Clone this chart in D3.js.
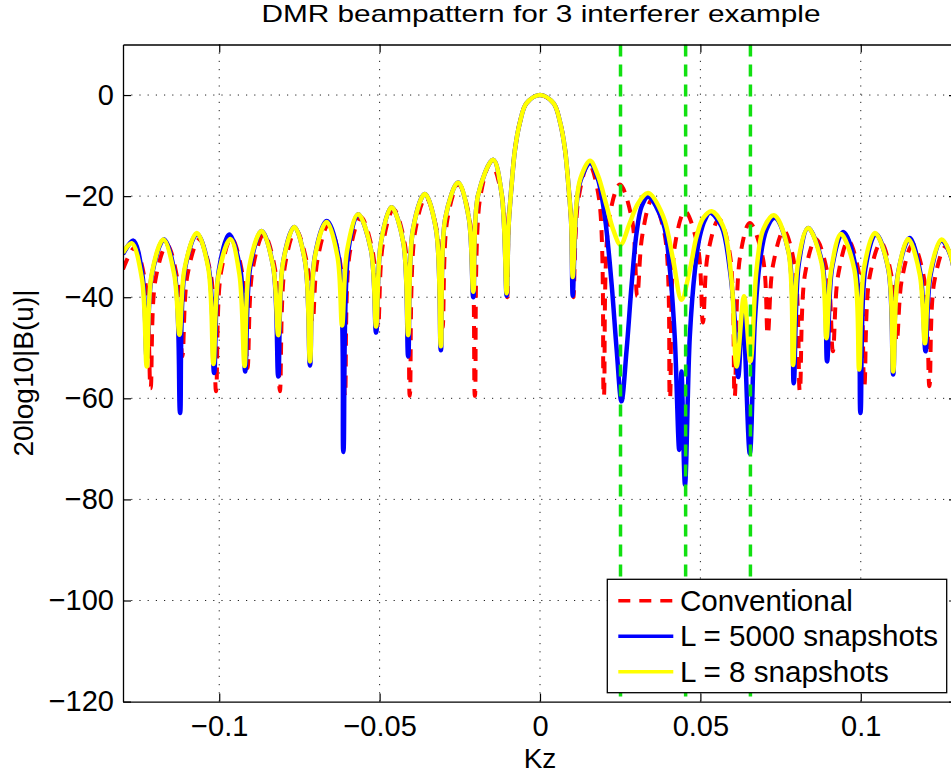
<!DOCTYPE html>
<html>
<head>
<meta charset="utf-8">
<script src="https://cdn.jsdelivr.net/npm/d3@7"></script>
<style>
    body { margin: 0; background: #fff; }
    text { font-family: "Liberation Sans", Arial, Helvetica, sans-serif; fill: #000; }
</style>
</head>
<body>
<div id="vis"></div>
<script>
// interferer directions (green markers)
const interferers = [0.0251, 0.0454, 0.0656];

const xTicks = [-0.1, -0.05, 0, 0.05, 0.1];
const xTickLabels = ["\u22120.1", "\u22120.05", "0", "0.05", "0.1"];
const yTicks = [-120, -100, -80, -60, -40, -20, 0];

// [Kz, dB]
const conventional = [
    [-0.1300,-34.5],[-0.1264,-30.2],[-0.1230,-37.2],[-0.1214,-58.0],[-0.1199,-36.6],[-0.1163,-29.6],
    [-0.1130,-36.6],[-0.1115,-51.7],[-0.1099,-35.6],[-0.1063,-28.6],[-0.1026,-35.6],[-0.1010,-58.6],
    [-0.0995,-35.3],[-0.0962,-28.3],[-0.0928,-35.3],[-0.0912,-54.0],[-0.0896,-34.5],[-0.0861,-27.5],
    [-0.0826,-34.5],[-0.0811,-58.6],[-0.0795,-33.7],[-0.0761,-26.7],[-0.0725,-33.7],[-0.0709,-45.0],
    [-0.0694,-32.7],[-0.0660,-25.7],[-0.0624,-32.7],[-0.0608,-59.5],[-0.0593,-31.2],[-0.0558,-24.2],
    [-0.0521,-31.2],[-0.0505,-46.0],[-0.0490,-29.6],[-0.0457,-22.6],[-0.0421,-29.6],[-0.0406,-59.5],
    [-0.0390,-27.3],[-0.0356,-20.3],[-0.0320,-27.3],[-0.0304,-46.0],[-0.0289,-24.7],[-0.0254,-17.7],
    [-0.0219,-24.7],[-0.0203,-59.5],[-0.0187,-20.5],[-0.0153,-13.5],[-0.0117,-20.5],[-0.0102,-40.0],
    [-0.0098,-26.0],[-0.0088,-17.4],[-0.0078,-10.8],[-0.0063,-5.5],[-0.0042,-1.6],[0,0],
    [0.0042,-1.6],[0.0063,-5.5],[0.0078,-10.8],[0.0088,-17.4],[0.0098,-26.0],
    [0.0104,-40.0],[0.0120,-20.5],[0.0152,-13.5],[0.0184,-20.5],[0.0199,-59.6],[0.0215,-24.7],
    [0.0249,-17.7],[0.0287,-24.7],[0.0303,-39.8],[0.0319,-27.7],[0.0349,-20.7],[0.0389,-27.7],
    [0.0405,-60.0],[0.0420,-30.0],[0.0452,-23.0],[0.0492,-30.0],[0.0508,-45.0],[0.0523,-31.5],
    [0.0558,-24.5],[0.0592,-31.5],[0.0607,-59.6],[0.0623,-32.3],[0.0654,-25.3],[0.0695,-32.3],
    [0.0710,-47.4],[0.0726,-33.8],[0.0760,-26.8],[0.0794,-33.8],[0.0810,-58.6],[0.0826,-35.5],
    [0.0860,-28.5],[0.0897,-35.5],[0.0913,-50.7],[0.0929,-35.8],[0.0961,-28.8],[0.0996,-35.8],
    [0.1011,-57.6],[0.1027,-36.2],[0.1063,-29.2],[0.1097,-36.2],[0.1112,-48.8],[0.1128,-36.5],
    [0.1162,-29.5],[0.1198,-36.5],[0.1214,-57.6],[0.1229,-37.0],[0.1265,-30.0],[0.1300,-36.0]
];

const snap5000 = [
    [-0.1300,-31.5],[-0.1268,-28.8],[-0.1239,-35.8],[-0.1226,-52.0],[-0.1210,-35.6],[-0.1172,-28.6],
    [-0.1138,-35.6],[-0.1122,-62.9],[-0.1107,-34.5],[-0.1069,-27.5],[-0.1032,-34.5],[-0.1016,-55.0],
    [-0.1001,-34.6],[-0.0969,-27.6],[-0.0934,-34.6],[-0.0919,-54.7],[-0.0903,-33.9],[-0.0868,-26.9],
    [-0.0832,-33.9],[-0.0816,-55.7],[-0.0801,-33.1],[-0.0766,-26.1],[-0.0732,-33.1],[-0.0717,-53.5],
    [-0.0702,-31.9],[-0.0665,-24.9],[-0.0628,-31.9],[-0.0613,-70.6],[-0.0597,-30.6],[-0.0567,-23.6],
    [-0.0527,-30.6],[-0.0511,-47.0],[-0.0496,-29.2],[-0.0463,-22.2],[-0.0426,-29.2],[-0.0411,-51.7],
    [-0.0396,-26.6],[-0.0359,-19.6],[-0.0324,-26.6],[-0.0309,-50.5],[-0.0295,-24.3],[-0.0255,-17.3],
    [-0.0222,-24.3],[-0.0208,-40.0],[-0.0193,-19.8],[-0.0146,-12.8],[-0.0119,-19.8],[-0.0104,-39.7],
    [-0.0098,-26.0],[-0.0088,-17.4],[-0.0078,-10.8],[-0.0063,-5.5],[-0.0042,-1.6],[0,0],
    [0.0042,-1.6],[0.0063,-5.5],[0.0078,-10.8],[0.0088,-17.4],[0.0097,-25.0],
    [0.0102,-39.7],[0.0113,-22.5],[0.0126,-17.0],[0.0156,-13.5],[0.0180,-16.5],[0.0202,-24.0],
    [0.0223,-37.2],[0.0239,-50.4],[0.0254,-60.6],[0.0270,-50.4],[0.0286,-37.2],[0.0301,-27.3],
    [0.0317,-22.0],[0.0337,-20.1],[0.0384,-25.3],[0.0405,-34.6],[0.0420,-47.8],[0.0434,-70.2],
    [0.0441,-54.7],[0.0452,-77.1],[0.0467,-47.8],[0.0483,-34.6],[0.0498,-28.0],[0.0514,-24.7],
    [0.0530,-23.3],[0.0566,-26.0],[0.0592,-34.6],[0.0607,-44.5],[0.0618,-55.8],[0.0632,-42.8],
    [0.0654,-70.9],[0.0670,-44.5],[0.0685,-33.2],[0.0706,-26.6],[0.0732,-24.3],[0.0776,-31.3],
    [0.0791,-57.0],[0.0807,-33.3],[0.0836,-26.3],[0.0880,-33.3],[0.0895,-52.7],[0.0911,-34.0],
    [0.0945,-27.1],[0.0984,-34.1],[0.0999,-62.9],[0.1014,-34.5],[0.1047,-27.5],[0.1086,-34.5],
    [0.1101,-55.3],[0.1116,-35.3],[0.1153,-28.3],[0.1186,-35.3],[0.1202,-50.7],[0.1217,-35.8],
    [0.1252,-28.8],[0.1281,-32.0],[0.1300,-40.0]
];

const snap8 = [
    [-0.1300,-31.2],[-0.1273,-29.3],[-0.1241,-36.3],[-0.1226,-53.7],[-0.1211,-35.6],[-0.1174,-28.6],
    [-0.1140,-35.6],[-0.1124,-47.4],[-0.1108,-34.3],[-0.1070,-27.3],[-0.1034,-34.3],[-0.1018,-53.2],
    [-0.1002,-35.5],[-0.0965,-28.5],[-0.0937,-35.5],[-0.0921,-53.6],[-0.0906,-33.9],[-0.0868,-26.9],
    [-0.0832,-33.9],[-0.0816,-47.5],[-0.0801,-33.1],[-0.0766,-26.1],[-0.0732,-33.1],[-0.0717,-52.7],
    [-0.0702,-32.1],[-0.0665,-25.1],[-0.0631,-32.1],[-0.0617,-45.6],[-0.0601,-30.6],[-0.0567,-23.6],
    [-0.0527,-30.6],[-0.0511,-45.8],[-0.0496,-29.2],[-0.0463,-22.2],[-0.0426,-29.2],[-0.0411,-47.5],
    [-0.0396,-26.6],[-0.0359,-19.6],[-0.0324,-26.6],[-0.0309,-49.7],[-0.0295,-24.3],[-0.0255,-17.3],
    [-0.0222,-24.3],[-0.0208,-38.9],[-0.0193,-19.8],[-0.0146,-12.8],[-0.0119,-19.8],[-0.0104,-39.2],
    [-0.0098,-26.0],[-0.0088,-17.4],[-0.0078,-10.8],[-0.0063,-5.5],[-0.0042,-1.6],[0,0],
    [0.0042,-1.6],[0.0063,-5.5],[0.0078,-10.8],[0.0088,-17.4],[0.0097,-25.0],
    [0.0102,-36.0],[0.0113,-22.0],[0.0126,-16.5],[0.0156,-13.0],[0.0180,-15.8],[0.0208,-22.0],
    [0.0228,-26.6],[0.0251,-29.6],[0.0280,-25.3],[0.0306,-21.4],[0.0337,-19.4],[0.0384,-24.0],
    [0.0415,-32.6],[0.0441,-40.5],[0.0467,-34.6],[0.0488,-28.0],[0.0509,-24.3],[0.0535,-23.0],
    [0.0571,-26.0],[0.0597,-36.5],[0.0613,-53.7],[0.0636,-39.8],[0.0656,-52.7],[0.0675,-34.6],
    [0.0696,-26.6],[0.0729,-23.8],[0.0774,-30.8],[0.0789,-53.4],[0.0804,-33.3],[0.0836,-26.3],
    [0.0878,-33.3],[0.0893,-48.1],[0.0908,-34.5],[0.0938,-27.5],[0.0980,-34.5],[0.0995,-54.3],
    [0.1010,-34.3],[0.1044,-27.3],[0.1086,-34.3],[0.1101,-54.7],[0.1116,-35.5],[0.1148,-28.5],
    [0.1184,-35.5],[0.1200,-49.1],[0.1215,-35.6],[0.1252,-28.6],[0.1281,-31.9],[0.1300,-40.0]
];

const series = [
    {name: "Conventional", data: conventional, color: "#ff0000", dash: "12,9", lw: 4},
    {name: "L = 5000 snapshots", data: snap5000, color: "#0000ff", dash: null, lw: 4.5},
    {name: "L = 8 snapshots", data: snap8, color: "#ffff00", dash: null, lw: 4.5}
];

let width = 951;
let height = 774;

// axes box (right edge falls just outside the window, like the original)
const boxLeft = 123, boxRight = 957, boxTop = 44.5, boxBottom = 701.6;

var svg = d3.select("#vis")
    .append("svg")
    .attr("width", width)
    .attr("height", height);

var x = d3.scaleLinear().domain([-0.13, 0.13]).range([boxLeft, boxRight]);
var y = d3.scaleLinear().domain([-120, 10]).range([boxBottom, boxTop]);

svg.append("clipPath").attr("id", "plotclip")
    .append("rect")
    .attr("x", boxLeft).attr("y", boxTop)
    .attr("width", boxRight - boxLeft).attr("height", boxBottom - boxTop);

// dotted grid
var grid = svg.append("g")
    .attr("stroke", "#222")
    .attr("stroke-width", 1)
    .attr("stroke-dasharray", "1.2,7");
grid.selectAll(".gx").data(xTicks).enter().append("line")
    .attr("x1", d => x(d)).attr("x2", d => x(d))
    .attr("y1", boxBottom).attr("y2", boxTop);
grid.selectAll(".gy").data(yTicks.filter(d => d > -120)).enter().append("line")
    .attr("x1", boxLeft).attr("x2", boxRight)
    .attr("y1", d => y(d)).attr("y2", d => y(d));

var line = d3.line()
    .x(d => x(d[0]))
    .y(d => y(d[1]))
    .curve(d3.curveCatmullRom.alpha(0.5));

var plot = svg.append("g").attr("clip-path", "url(#plotclip)");

series.forEach(function (s) {
    plot.append("path")
        .datum(s.data)
        .attr("fill", "none")
        .attr("stroke", s.color)
        .attr("stroke-width", s.lw)
        .attr("stroke-linejoin", "round")
        .attr("stroke-dasharray", s.dash)
        .attr("d", line);
});

plot.selectAll(".intf").data(interferers).enter().append("line")
    .attr("x1", d => x(d)).attr("x2", d => x(d))
    .attr("y1", boxTop).attr("y2", boxBottom)
    .attr("stroke", "#11e011")
    .attr("stroke-width", 3.5)
    .attr("stroke-dasharray", "12,8");

// axes, ticks pointing inward
svg.append("g")
    .attr("transform", "translate(0," + boxBottom + ")")
    .call(d3.axisBottom(x).tickValues(xTicks)
        .tickFormat((d, i) => xTickLabels[i])
        .tickSizeInner(-8).tickSizeOuter(0).tickPadding(14));
svg.append("g")
    .attr("transform", "translate(0," + boxTop + ")")
    .call(d3.axisTop(x).tickValues(xTicks).tickFormat("")
        .tickSizeInner(-8).tickSizeOuter(0));
svg.append("g")
    .attr("transform", "translate(" + boxLeft + ",0)")
    .call(d3.axisLeft(y).tickValues(yTicks)
        .tickFormat(d3.format("d"))
        .tickSizeInner(-8).tickSizeOuter(0).tickPadding(9));
svg.append("g")
    .attr("transform", "translate(" + boxRight + ",0)")
    .call(d3.axisRight(y).tickValues(yTicks).tickFormat("")
        .tickSizeInner(-8).tickSizeOuter(0));

svg.selectAll(".domain").attr("stroke", "#000").attr("stroke-width", 1.3);
svg.selectAll(".tick line").attr("stroke", "#000").attr("stroke-width", 1.2);
svg.selectAll(".tick text")
    .style("font-family", "'Liberation Sans', Arial, sans-serif")
    .attr("font-size", 29)
    .attr("fill", "#000");

// labels
svg.append("text")
    .attr("x", 541).attr("y", 22)
    .attr("text-anchor", "middle")
    .attr("font-size", 24)
    .attr("textLength", 559)
    .attr("lengthAdjust", "spacingAndGlyphs")
    .text("DMR beampattern for 3 interferer example");

svg.append("text")
    .attr("x", 540).attr("y", 767.5)
    .attr("text-anchor", "middle")
    .attr("font-size", 28)
    .text("Kz");

svg.append("text")
    .attr("transform", "translate(33," + ((boxTop + boxBottom) / 2) + ") rotate(-90)")
    .attr("text-anchor", "middle")
    .attr("font-size", 28)
    .text("20log10|B(u)|");

// legend
var legend = svg.append("g");
legend.append("rect")
    .attr("x", 607.3).attr("y", 579.3)
    .attr("width", 339.4).attr("height", 113.4)
    .attr("fill", "#fff")
    .attr("stroke", "#000")
    .attr("stroke-width", 1.3);

var entries = legend.selectAll(".entry").data(series).enter().append("g")
    .attr("transform", (d, i) => "translate(0," + (600.7 + i * 35.5) + ")");
entries.append("line")
    .attr("x1", 618.3).attr("x2", 673.3)
    .attr("stroke", d => d.color)
    .attr("stroke-width", 3.5)
    .attr("stroke-dasharray", d => d.dash);
entries.append("text")
    .attr("x", 680).attr("y", 10)
    .attr("font-size", 29.6)
    .text(d => d.name);
</script>
</body>
</html>
